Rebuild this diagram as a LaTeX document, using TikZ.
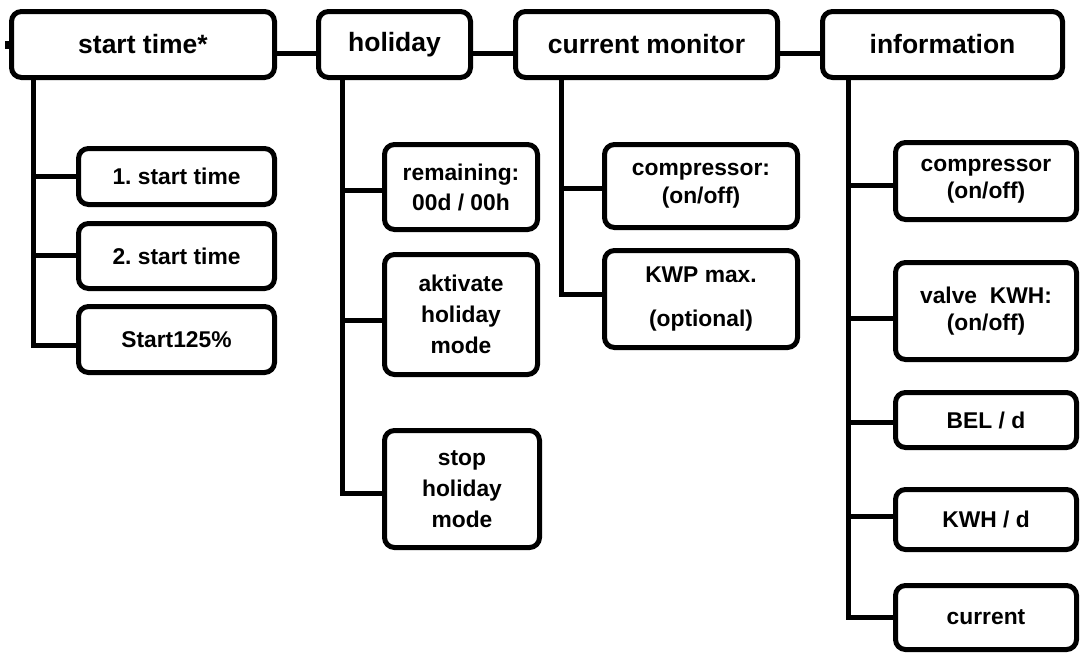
\documentclass[tikz,border=0pt]{standalone}
\usepackage{fontspec}
\setmainfont{Liberation Sans}
\frenchspacing
\begin{document}
\begin{tikzpicture}[x=1pt,y=-1pt,
  box/.style={draw=black, line width=5pt, rounded corners=10pt, fill=white,
    inner sep=0pt, align=center, text=black},
  topbox/.style={box, minimum height=66pt, font=\bfseries\fontsize{26.5}{30}\selectfont},
  subbox/.style={box, font=\bfseries\fontsize{22.8}{28}\selectfont},
  wire/.style={line width=5pt, black, line join=miter, line cap=butt}]
\useasboundingbox (0,0) rectangle (1080,653);

% menu headers
\node[topbox, minimum width=263pt] (st)   at (143,44.5)   {start time*};
\node[topbox, minimum width=152pt] (hol)  at (394.5,44.5) {holiday};
\node[topbox, minimum width=262pt] (cur)  at (646.5,44.5) {current monitor};
\node[topbox, minimum width=240pt] (info) at (942.5,44.5) {information};

% links between headers
\draw[wire] ([yshift=-8.5pt]st.east)  -- ([yshift=-8.5pt]hol.west);
\draw[wire] ([yshift=-8.5pt]hol.east) -- ([yshift=-8.5pt]cur.west);
\draw[wire] ([yshift=-8.5pt]cur.east) -- ([yshift=-8.5pt]info.west);
\coordinate (stub) at ([xshift=-4.5pt]st.west);
\draw[line width=8pt] (st.west) -- (stub);

% start time entries
\node[subbox, minimum width=196pt, minimum height=56pt] (s1) at (176.5,176.5) {1. start time};
\node[subbox, minimum width=196pt, minimum height=65pt] (s2) at (176.5,256)   {2. start time};
\node[subbox, minimum width=196pt, minimum height=66pt] (s3) at (176.5,339.5) {Start125\%};

% holiday entries
\node[subbox, minimum width=153pt, minimum height=85pt, font=\bfseries\fontsize{22.8}{30}\selectfont]
  (h1) at (461,187) {remaining:\\00d / 00h};
\node[subbox, minimum width=153pt, minimum height=120pt, font=\bfseries\fontsize{22.8}{31}\selectfont]
  (h2) at (461,314.5) {aktivate\\holiday\\mode};
\node[subbox, minimum width=155pt, minimum height=117pt, font=\bfseries\fontsize{22.8}{31}\selectfont]
  (h3) at (462,489) {stop\\holiday\\mode};

% current monitor entries
\node[subbox, minimum width=193pt, minimum height=83pt] (c1) at (701,186) {compressor:\\(on/off)};
\node[subbox, minimum width=193pt, minimum height=97pt, font=\bfseries\fontsize{22.8}{44}\selectfont]
  (c2) at (701,299) {KWP max.\\(optional)};

% information entries
\node[subbox, minimum width=181pt, minimum height=77pt, font=\bfseries\fontsize{22.8}{27}\selectfont]
  (i1) at (986,181) {compressor\\(on/off)};
\node[subbox, minimum width=181pt, minimum height=97pt, font=\bfseries\fontsize{22.8}{27}\selectfont]
  (i2) at (986,311) {valve\ \ KWH:\\(on/off)};
\node[subbox, minimum width=181pt, minimum height=55pt] (i3) at (986,420)   {BEL / d};
\node[subbox, minimum width=181pt, minimum height=60pt] (i4) at (986,519.5) {KWH / d};
\node[subbox, minimum width=181pt, minimum height=64pt] (i5) at (986,617.5) {current};

% trunk positions
\coordinate (t1) at (33,0);
\coordinate (t2) at (342,0);
\coordinate (t3) at (561,0);
\coordinate (t4) at (848,0);

% branch points on the entries
\coordinate (bs1) at (s1.west);
\coordinate (bs2) at ([yshift=1pt]s2.west);
\coordinate (bs3) at ([yshift=-5.5pt]s3.west);
\coordinate (bh1) at ([yshift=-3pt]h1.west);
\coordinate (bh2) at ([yshift=-5.5pt]h2.west);
\coordinate (bh3) at ([yshift=-4pt]h3.west);
\coordinate (bc1) at ([yshift=-2pt]c1.west);
\coordinate (bc2) at ([yshift=5pt]c2.west);
\coordinate (bi1) at ([yshift=-4pt]i1.west);
\coordinate (bi2) at ([yshift=-7pt]i2.west);
\coordinate (bi3) at ([yshift=-2pt]i3.west);
\coordinate (bi4) at ([yshift=3.5pt]i4.west);
\coordinate (bi5) at (i5.west);

% start time tree
\draw[wire] ([yshift=2pt]st.south -| t1) |- (bs3);
\draw[wire] (bs1 -| t1) -- (bs1);
\draw[wire] (bs2 -| t1) -- (bs2);

% holiday tree
\draw[wire] ([yshift=2pt]hol.south -| t2) |- (bh3);
\draw[wire] (bh1 -| t2) -- (bh1);
\draw[wire] (bh2 -| t2) -- (bh2);

% current monitor tree
\draw[wire] ([yshift=2pt]cur.south -| t3) |- (bc2);
\draw[wire] (bc1 -| t3) -- (bc1);

% information tree
\draw[wire] ([yshift=2pt]info.south -| t4) |- (bi5);
\draw[wire] (bi1 -| t4) -- (bi1);
\draw[wire] (bi2 -| t4) -- (bi2);
\draw[wire] (bi3 -| t4) -- (bi3);
\draw[wire] (bi4 -| t4) -- (bi4);
\end{tikzpicture}
\end{document}
